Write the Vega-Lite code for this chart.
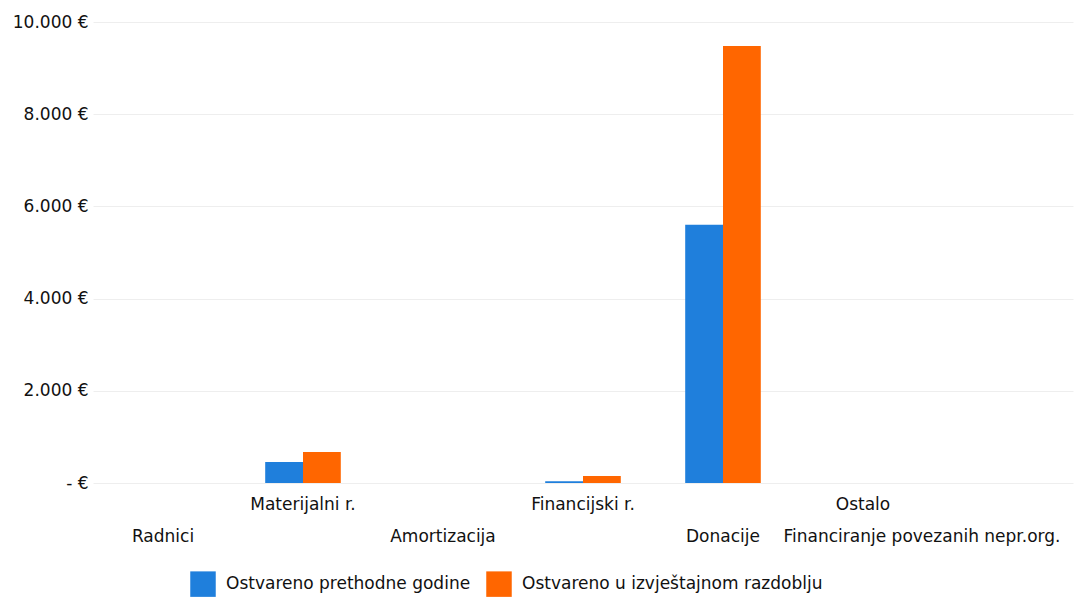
{
  "$schema": "https://vega.github.io/schema/vega-lite/v6.json",
  "width": 980,
  "height": 461,
  "autosize": "none",
  "padding": {"left": 93, "top": 22, "right": 4, "bottom": 117},
  "background": "white",
  "config": {"view": {"stroke": null}, "font": "DejaVu Sans"},
  "data": {"values": [
    {"category": "Radnici", "series": "Ostvareno prethodne godine", "value": 0},
    {"category": "Radnici", "series": "Ostvareno u izvještajnom razdoblju", "value": 0},
    {"category": "Materijalni r.", "series": "Ostvareno prethodne godine", "value": 455},
    {"category": "Materijalni r.", "series": "Ostvareno u izvještajnom razdoblju", "value": 675},
    {"category": "Amortizacija", "series": "Ostvareno prethodne godine", "value": 0},
    {"category": "Amortizacija", "series": "Ostvareno u izvještajnom razdoblju", "value": 0},
    {"category": "Financijski r.", "series": "Ostvareno prethodne godine", "value": 40},
    {"category": "Financijski r.", "series": "Ostvareno u izvještajnom razdoblju", "value": 150},
    {"category": "Donacije", "series": "Ostvareno prethodne godine", "value": 5600},
    {"category": "Donacije", "series": "Ostvareno u izvještajnom razdoblju", "value": 9480},
    {"category": "Ostalo", "series": "Ostvareno prethodne godine", "value": 0},
    {"category": "Ostalo", "series": "Ostvareno u izvještajnom razdoblju", "value": 0},
    {"category": "Financiranje povezanih nepr.org.", "series": "Ostvareno prethodne godine", "value": 0},
    {"category": "Financiranje povezanih nepr.org.", "series": "Ostvareno u izvještajnom razdoblju", "value": 0}
  ]},
  "mark": {"type": "bar"},
  "encoding": {
    "x": {
      "field": "category",
      "type": "nominal",
      "sort": ["Radnici", "Materijalni r.", "Amortizacija", "Financijski r.", "Donacije", "Ostalo", "Financiranje povezanih nepr.org."],
      "scale": {"paddingInner": 0.46, "paddingOuter": 0.23},
      "axis": {
        "title": null,
        "labelAngle": 0,
        "domain": false,
        "ticks": false,
        "labelFontSize": 17,
        "labelColor": "#111111",
        "labelPadding": 13,
        "labelLineHeight": 32,
        "labelOverlap": false,
        "labelLimit": 500,
        "labelExpr": "(datum.label == 'Materijalni r.' || datum.label == 'Financijski r.' || datum.label == 'Ostalo') ? datum.label : ['', datum.label]",
        "labelOffset": {"condition": {"test": "datum.value == 'Financiranje povezanih nepr.org.'", "value": -81}, "value": 0}
      }
    },
    "xOffset": {"field": "series", "sort": ["Ostvareno prethodne godine", "Ostvareno u izvještajnom razdoblju"]},
    "y": {
      "field": "value",
      "type": "quantitative",
      "scale": {"domain": [0, 10000]},
      "axis": {
        "title": null,
        "values": [0, 2000, 4000, 6000, 8000, 10000],
        "labelExpr": "datum.value == 0 ? '- €' : replace(format(datum.value, ',.0f'), ',', '.') + ' €'",
        "domain": false,
        "ticks": false,
        "gridColor": "#eeeeee",
        "labelFontSize": 17,
        "labelColor": "#111111",
        "labelPadding": 5
      }
    },
    "color": {
      "field": "series",
      "type": "nominal",
      "scale": {"domain": ["Ostvareno prethodne godine", "Ostvareno u izvještajnom razdoblju"], "range": ["#1f7fdc", "#ff6600"]},
      "legend": {
        "title": null,
        "orient": "none",
        "direction": "horizontal",
        "columns": 2,
        "legendX": 97,
        "legendY": 549,
        "padding": 0,
        "symbolType": "square",
        "symbolSize": 650,
        "symbolStrokeWidth": 0,
        "labelFontSize": 17,
        "labelColor": "#111111",
        "labelOffset": 10,
        "columnPadding": 15,
        "labelLimit": 400
      }
    }
  }
}
